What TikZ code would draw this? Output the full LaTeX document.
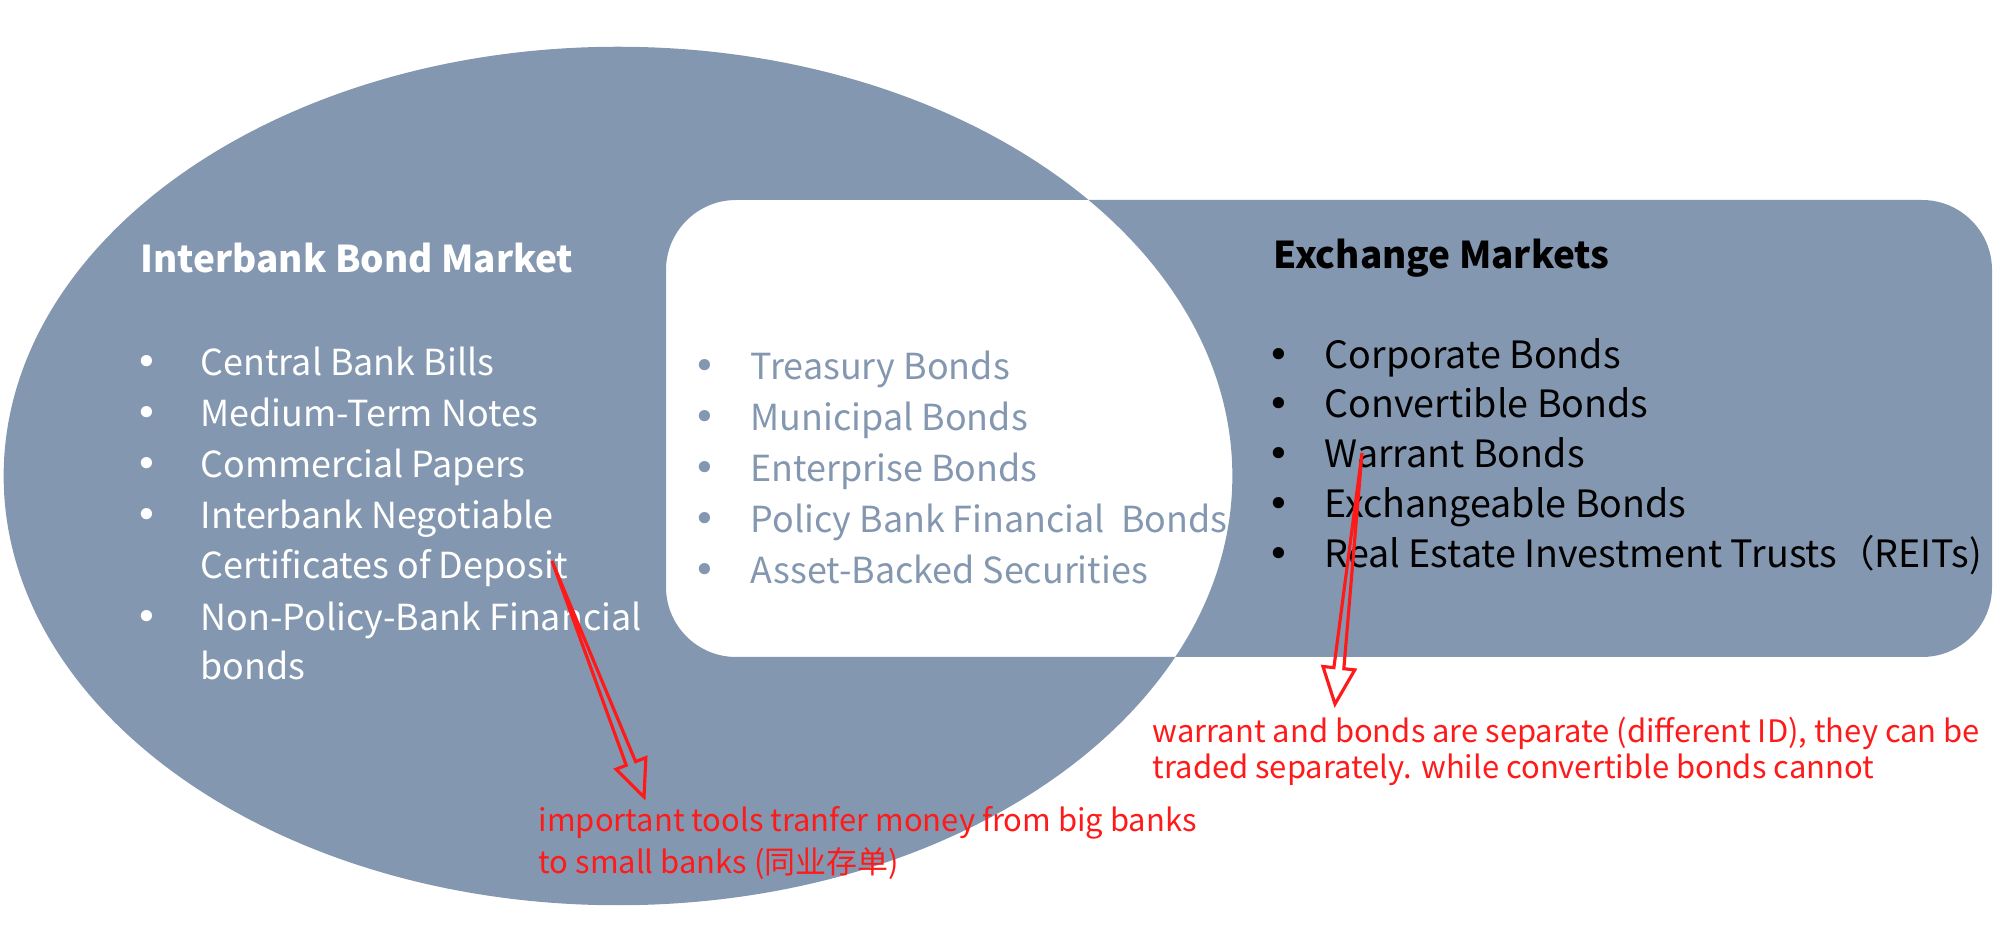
\documentclass[tikz,border=0pt]{standalone}
\usepackage{fontspec}
\setmainfont{Noto Sans CJK SC}
\newfontfamily\symfont{DejaVu Sans}
\usetikzlibrary{calc}
\definecolor{bluegray}{HTML}{8497B0}
\definecolor{annot}{HTML}{FF1A1A}
\tikzset{
  itemtext/.style={anchor=base west, inner sep=0pt, font=\fontsize{10.2}{12}\selectfont},
  rightitem/.style={anchor=base west, inner sep=0pt, font=\fontsize{10.7}{12}\selectfont},
  bulletmark/.style={anchor=base, inner sep=0pt, font=\symfont\fontsize{11}{13}\selectfont},
  titletext/.style={anchor=base west, inner sep=0pt, font=\fontsize{10.5}{13}\selectfont\bfseries},
  notetext/.style={anchor=base west, inner sep=0pt, text=annot, font=\fontsize{8.8}{11}\selectfont},
  annotline/.style={draw=annot, line width=0.9pt, line join=miter},
}
\newcommand{\hollowarrow}[3]{%
  \coordinate (#3) at ($(#2)!0.36cm!(#1)$);
  \draw[annotline] (#1) -- ($(#3)!0.05cm!90:(#2)$) -- ($(#3)!0.16cm!90:(#2)$) -- (#2)
    -- ($(#3)!0.16cm!-90:(#2)$) -- ($(#3)!0.05cm!-90:(#2)$) -- cycle;}
\begin{document}
\begin{tikzpicture}[x=0.01cm,y=-0.01cm]
\useasboundingbox (0,0) rectangle (2000,928);
% ellipse and rounded band, overlap left white (even odd)
\fill[bluegray, even odd rule] (618,476) ellipse [x radius=6.14cm, y radius=4.29cm]
  [rounded corners=0.7cm] (666,200) rectangle (1992,657);

% Interbank Bond Market
\node[titletext, text=white] (ibt) at (140,273) {Interbank Bond Market};
\foreach \y/\n in {376/1,427/2,478/3,529/4,630/6}
  \node[bulletmark, text=white] (ib\n) at (147,\y) {•};
\node[itemtext, text=white] (ia) at (200,376) {Central Bank Bills};
\node[itemtext, text=white] (ib) at (200,427) {Medium-Term Notes};
\node[itemtext, text=white] (ic) at (200,478) {Commercial Papers};
\node[itemtext, text=white] (id) at (200,529) {Interbank Negotiable};
\node[itemtext, text=white] (ie) at (200,579) {Certificates of Deposit};
\node[itemtext, text=white] (if) at (200,630) {Non-Policy-Bank Financial};
\node[itemtext, text=white] (ig) at (200,680) {bonds};

% shared instruments
\foreach \y/\n in {380/1,431/2,482/3,533/4,584/5}
  \node[bulletmark, text=bluegray] (mb\n) at (705,\y) {•};
\node[itemtext, text=bluegray] (ma) at (750,380) {Treasury Bonds};
\node[itemtext, text=bluegray] (mb) at (750,431) {Municipal Bonds};
\node[itemtext, text=bluegray] (mc) at (750,482) {Enterprise Bonds};
\node[itemtext, text=bluegray] (md) at (750,533) {Policy Bank Financial\ \ Bonds};
\node[itemtext, text=bluegray] (me) at (750,584) {Asset-Backed Securities};

% Exchange Markets
\node[titletext, text=black] (ext) at (1273,269) {Exchange Markets};
\foreach \y/\n in {369/1,418/2,468/3,518/4,568/5}
  \node[bulletmark, text=black] (eb\n) at (1279,\y) {•};
\node[rightitem, text=black] (ea) at (1324,369) {Corporate Bonds};
\node[rightitem, text=black] (eb) at (1324,418) {Convertible Bonds};
\node[rightitem, text=black] (ec) at (1324,468) {Warrant Bonds};
\node[rightitem, text=black] (ed) at (1324,518) {Exchangeable Bonds};
\node[rightitem, text=black] (ee) at (1324,568) {Real Estate Investment Trusts（REITs)};

% annotations
\node[notetext] (n1a) at (538,831) {important tools tranfer money from big banks};
\node[notetext] (n1b) at (538,873) {to small banks (同业存单)};
\node[notetext] (n2a) at (1152,742) {warrant and bonds are separate (different ID), they can be};
\node[notetext] (n2b) at (1152,778) {traded separately. while convertible bonds cannot};

\coordinate (a1s) at (552,561);
\coordinate (a1e) at (644,797);
\coordinate (a2s) at (1362,453);
\coordinate (a2e) at (1335,704);
\hollowarrow{a1s}{a1e}{a1h}
\hollowarrow{a2s}{a2e}{a2h}
\end{tikzpicture}
\end{document}
